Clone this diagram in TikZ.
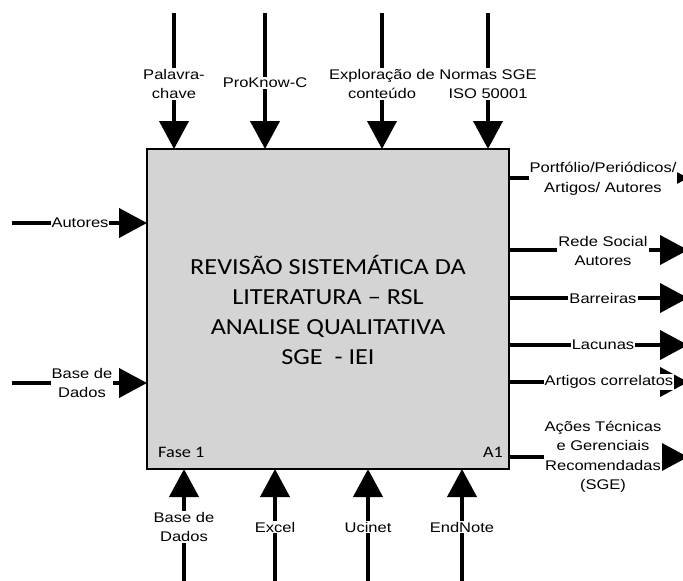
\documentclass[tikz,border=0pt]{standalone}
\usepackage{fontspec}
\usetikzlibrary{arrows.meta}
\newfontfamily\lblfont[FakeStretch=1.18]{Liberation Sans}
\newfontfamily\boxfont[FakeStretch=1.14]{Carlito}
\definecolor{boxgray}{RGB}{212,212,212}
\tikzset{
  flow/.style={line width=4pt, -{Triangle[length=28pt,width=29pt]}},
  lbl/.style={fill=white, inner sep=1pt, align=center,
    font=\lblfont\fontsize{14}{19.5}\selectfont},
  corner/.style={inner sep=0pt, font=\boxfont\fontsize{16}{18}\selectfont},
}
\begin{document}
\begin{tikzpicture}[x=1pt, y=-1pt]
\useasboundingbox (0,0) rectangle (683,581);
\clip (0,0) rectangle (683,581);

% activity box
\node[draw, line width=2pt, fill=boxgray, minimum width=362pt, minimum height=320pt,
      inner sep=0pt] (A) at (328,309) {};
\node[align=center, font=\boxfont\fontsize{23}{30}\selectfont] (title) at (328,310)
  {REVISÃO SISTEMÁTICA DA\\LITERATURA – RSL\\ANALISE QUALITATIVA\\SGE\ \ - IEI};
\node[corner, anchor=west] (fase) at (158,452) {Fase 1};
\node[corner, anchor=east] (a1) at (503,452) {A1};

% controls (top)
\coordinate (c1) at (174,13);  \coordinate (c1e) at (174,149);
\coordinate (c2) at (265,13);  \coordinate (c2e) at (265,149);
\coordinate (c3) at (382,13);  \coordinate (c3e) at (382,149);
\coordinate (c4) at (488,13);  \coordinate (c4e) at (488,149);
\foreach \c in {c1,c2,c3,c4} \draw[flow] (\c) -- (\c e);
\node[lbl] (lc1) at (174,84) {Palavra-\\chave};
\node[lbl] (lc2) at (265,83) {ProKnow-C};
\node[lbl] (lc3) at (382,84) {Exploração de\\conteúdo};
\node[lbl] (lc4) at (488,84) {Normas SGE\\ISO 50001};

% inputs (left)
\coordinate (i1) at (12,223);  \coordinate (i1e) at (147,223);
\coordinate (i2) at (12,383);  \coordinate (i2e) at (147,383);
\foreach \c in {i1,i2} \draw[flow] (\c) -- (\c e);
\node[lbl] (li1) at (80,223) {Autores};
\node[lbl] (li2) at (82,383) {Base de\\Dados};

% mechanisms (bottom)
\coordinate (m1) at (184,585);  \coordinate (m1e) at (184,469);
\coordinate (m2) at (275,585);  \coordinate (m2e) at (275,469);
\coordinate (m3) at (368,585);  \coordinate (m3e) at (368,469);
\coordinate (m4) at (462,585);  \coordinate (m4e) at (462,469);
\foreach \c in {m1,m2,m3,m4} \draw[flow] (\c) -- (\c e);
\node[lbl] (lm1) at (184,527) {Base de\\Dados};
\node[lbl] (lm2) at (275,527) {Excel};
\node[lbl] (lm3) at (368,527) {Ucinet};
\node[lbl] (lm4) at (462,527) {EndNote};

% outputs (right)
\coordinate (o1) at (509,178);  \coordinate (o1e) at (688,178);
\coordinate (o2) at (509,250);  \coordinate (o2e) at (688,250);
\coordinate (o3) at (509,298);  \coordinate (o3e) at (688,298);
\coordinate (o4) at (509,345);  \coordinate (o4e) at (688,345);
\coordinate (o5) at (509,382);  \coordinate (o5e) at (688,382);
\coordinate (o6) at (509,457);  \coordinate (o6e) at (688,457);
\foreach \c in {o1,o2,o3,o4,o5,o6} \draw[flow] (\c) -- (\c e);
\node[lbl] (lo1) at (603,179) {Portfólio/Periódicos/\\Artigos/ Autores};
\node[lbl] (lo2) at (603,251) {Rede Social\\Autores};
\node[lbl] (lo3) at (603,298) {Barreiras};
\node[lbl] (lo4) at (603,345) {Lacunas};
\node[lbl] (lo5) at (609,382) {Artigos correlatos};
\node[lbl] (lo6) at (603,457) {Ações Técnicas\\e Gerenciais\\Recomendadas\\(SGE)};
\end{tikzpicture}
\end{document}
